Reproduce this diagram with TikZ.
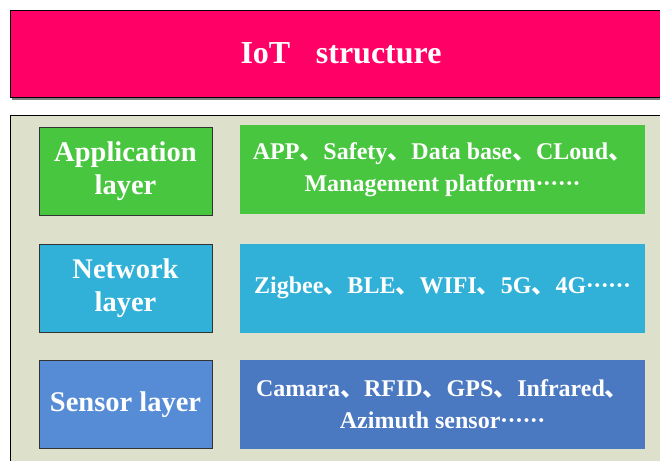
\documentclass[tikz,border=0pt]{standalone}
\usepackage{fontspec}
\setmainfont{Liberation Serif}
\newfontfamily\cjk{Noto Sans CJK SC}
\newcommand\dun{{\cjk 、}}
\newcommand\onedot{\makebox[0.31em]{\textperiodcentered}}
\newcommand\mydots{\onedot\onedot\onedot\onedot\onedot\onedot}
\definecolor{titlepink}{HTML}{FF0066}
\definecolor{panelbg}{HTML}{DDE0CB}
\definecolor{appgreen}{HTML}{48C63F}
\definecolor{netcyan}{HTML}{31B1D8}
\definecolor{senblue}{HTML}{568BD5}
\definecolor{senblue2}{HTML}{4A78C1}
\begin{document}
\begin{tikzpicture}[x=1pt,y=-1pt,
  box/.style={rectangle,inner sep=0pt,outer sep=0pt,text=white,align=center,font=\bfseries},
  leftbox/.style={box,draw=black!80,line width=0.8pt,minimum width=173pt,minimum height=88pt,
    font=\bfseries\fontsize{28.5}{33}\selectfont},
  rightbox/.style={box,minimum width=405pt,minimum height=89pt,
    font=\bfseries\fontsize{24}{32}\selectfont}]
\useasboundingbox (0,0) rectangle (660,460);
\clip (0,0) rectangle (660,460);
% title
\fill[black!50] (11.5,11) rectangle (680,99.5);
\node[box,draw=black,line width=0.8pt,fill=titlepink,minimum width=670pt,minimum height=87.5pt,anchor=north west] (title) at (10.5,10) {};
\node[box,anchor=base] (titletext) at (341,63.3)
  {\fontsize{32}{36}\selectfont IoT\hspace{0.8em}structure};
% panel
\node[box,draw=black,line width=0.8pt,fill=panelbg,minimum width=680pt,minimum height=370pt,anchor=north west] (panel) at (10.5,115) {};
% left labels
\node[leftbox,fill=appgreen] (app) at (125.5,171.5) {Application\\layer};
\node[leftbox,fill=netcyan] (net) at (125.5,288) {Network\\layer};
\node[leftbox,fill=senblue] (sen) at (125.5,404.5) {Sensor layer};
% right descriptions
\node[rightbox,fill=appgreen] (appd) at (442.5,169.5)
  {APP\dun Safety\dun Data base\dun CLoud\dun\\Management platform\mydots};
\node[rightbox,fill=netcyan] (netd) at (442.5,288)
  {Zigbee\dun BLE\dun WIFI\dun 5G\dun 4G\mydots};
\node[rightbox,fill=senblue2] (send) at (442.5,404)
  {Camara\dun RFID\dun GPS\dun Infrared\dun\\Azimuth sensor\mydots};
\end{tikzpicture}
\end{document}
